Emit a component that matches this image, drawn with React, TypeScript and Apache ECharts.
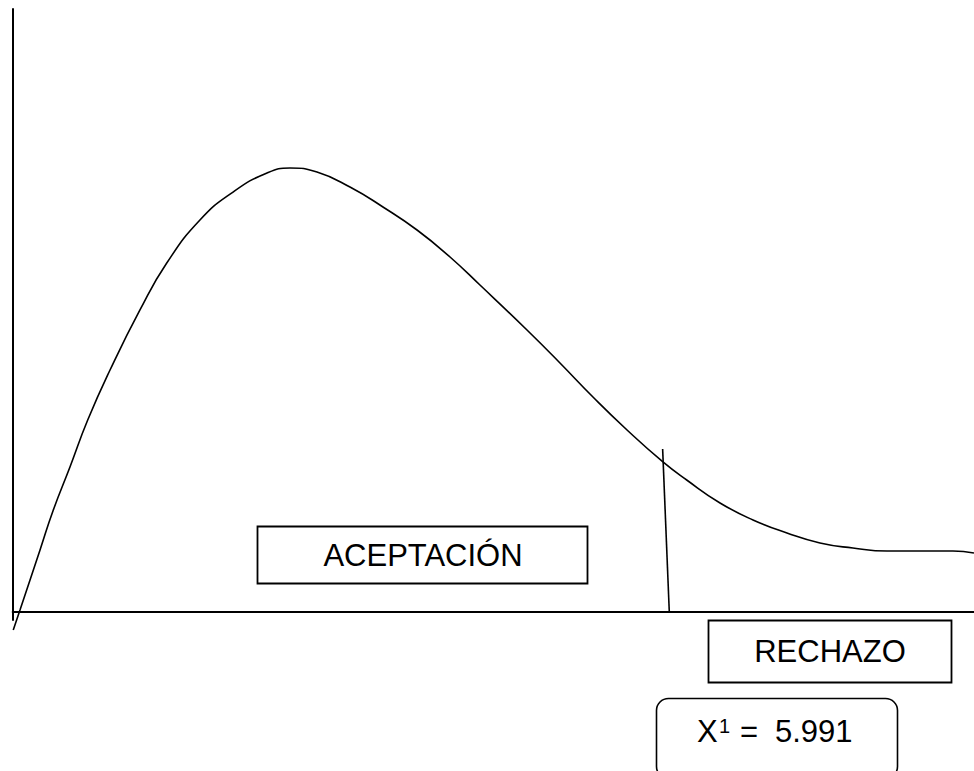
import React, { useEffect, useRef } from "react";
import * as echarts from "echarts";

// Curve: illustrative chi-square density (x in chi-square units, y in relative height)
const curveX = [0.005, 0.067, 0.251, 0.373, 0.526, 0.689, 0.894, 1.169, 1.415, 1.72, 2.024, 2.336, 2.547, 2.795, 3.098, 3.401, 3.714, 4.017, 4.292, 4.724, 5.027, 5.33, 5.643, 5.97, 6.191, 6.497, 6.8, 7.112, 7.415, 7.718, 8.031, 8.334, 8.637, 8.83];
const curveY = [-0.0304, 0.0028, 0.1024, 0.1687, 0.2401, 0.318, 0.401, 0.5006, 0.5785, 0.6499, 0.6963, 0.7279, 0.7362, 0.7295, 0.7046, 0.6715, 0.6333, 0.5885, 0.542, 0.4674, 0.4127, 0.3562, 0.3015, 0.2489, 0.2185, 0.1804, 0.1522, 0.1306, 0.114, 0.1057, 0.1007, 0.1007, 0.1007, 0.0974];

// Critical value line (X¹ = 5.991), drawn slightly slanted as in the reference
const criticalX = [5.97, 6.031];
const criticalY = [0.27, 0];

const labels = {
  accept: "ACEPTACIÓN",
  reject: "RECHAZO",
  stat: "X",
  statSup: "1",
  eq: "=",
  value: "5.991",
};

const FONT = "'Liberation Sans', Arial, sans-serif";

export default function App() {
  const ref = useRef<HTMLDivElement>(null);

  useEffect(() => {
    if (!ref.current) return;
    const chart = echarts.init(ref.current, undefined, { renderer: "svg" });
    const curveData = curveX.map((x, i) => [x, curveY[i]]);
    const critData = criticalX.map((x, i) => [x, criticalY[i]]);

    chart.setOption({
      animation: false,
      backgroundColor: "#ffffff",
      grid: { left: 12.7, right: 0, top: 9, bottom: 151 },
      xAxis: {
        type: "value",
        min: 0,
        max: 8.83,
        axisLine: { show: true, onZero: true, lineStyle: { color: "#000", width: 2 } },
        axisTick: { show: false },
        axisLabel: { show: false },
        splitLine: { show: false },
      },
      yAxis: {
        type: "value",
        min: -0.0138,
        max: 1,
        axisLine: { show: true, onZero: true, lineStyle: { color: "#000", width: 2 } },
        axisTick: { show: false },
        axisLabel: { show: false },
        splitLine: { show: false },
      },
      series: [
        {
          type: "line",
          data: curveData,
          smooth: 0.5,
          symbol: "none",
          clip: false,
          lineStyle: { color: "#000", width: 1.6 },
        },
        {
          type: "line",
          data: critData,
          symbol: "none",
          clip: false,
          lineStyle: { color: "#000", width: 1.6 },
        },
      ],
      graphic: [
        {
          type: "rect",
          shape: { x: 257.5, y: 526.5, width: 330, height: 57 },
          style: { fill: "#fff", stroke: "#000", lineWidth: 1.8 },
        },
        {
          type: "text",
          x: 423,
          y: 555,
          style: {
            text: labels.accept,
            font: `31px ${FONT}`,
            fill: "#000",
            align: "center",
            verticalAlign: "middle",
          },
        },
        {
          type: "rect",
          shape: { x: 708.5, y: 620.5, width: 243, height: 62 },
          style: { fill: "#fff", stroke: "#000", lineWidth: 1.8 },
        },
        {
          type: "text",
          x: 830,
          y: 651,
          style: {
            text: labels.reject,
            font: `31px ${FONT}`,
            fill: "#000",
            align: "center",
            verticalAlign: "middle",
          },
        },
        {
          type: "rect",
          shape: { x: 656.5, y: 698.5, width: 241, height: 80, r: 12 },
          style: { fill: "#fff", stroke: "#000", lineWidth: 1.6 },
        },
        {
          type: "text",
          x: 697,
          y: 731,
          style: {
            text: labels.stat,
            font: `31px ${FONT}`,
            fill: "#000",
            align: "left",
            verticalAlign: "middle",
          },
        },
        {
          type: "text",
          x: 719,
          y: 726,
          style: {
            text: labels.statSup,
            font: `20px ${FONT}`,
            fill: "#000",
            align: "left",
            verticalAlign: "middle",
          },
        },
        {
          type: "text",
          x: 740,
          y: 731,
          style: {
            text: labels.eq,
            font: `31px ${FONT}`,
            fill: "#000",
            align: "left",
            verticalAlign: "middle",
          },
        },
        {
          type: "text",
          x: 775,
          y: 731,
          style: {
            text: labels.value,
            font: `31px ${FONT}`,
            fill: "#000",
            align: "left",
            verticalAlign: "middle",
          },
        },
      ],
    });

    return () => {
      chart.dispose();
    };
  }, []);

  return (
    <div
      ref={ref}
      style={{ position: "absolute", left: 0, top: 0, width: 974, height: 771, background: "#fff" }}
    />
  );
}
